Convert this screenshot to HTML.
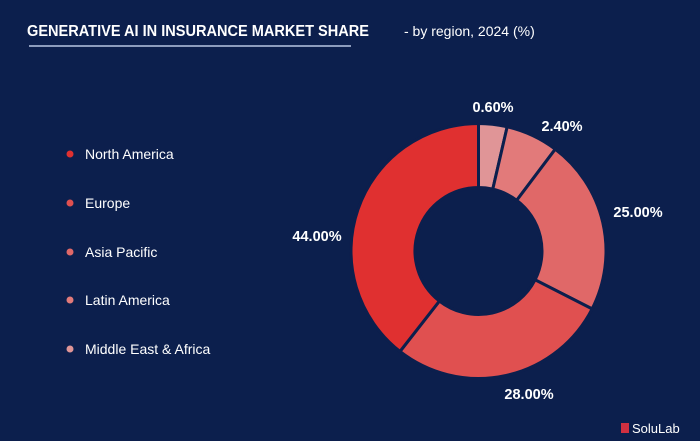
<!DOCTYPE html>
<html><head><style>
body{margin:0;width:700px;height:441px;background:#0c1f4d;overflow:hidden;font-family:"Liberation Sans",sans-serif;color:#fff}
</style></head><body>
<svg width="700" height="441" xmlns="http://www.w3.org/2000/svg" style="position:absolute;left:0;top:0">
<rect width="700" height="441" fill="#0c1f4d"/>
<text x="27" y="36" font-size="15.5" font-weight="bold" fill="#fff" textLength="342" lengthAdjust="spacingAndGlyphs">GENERATIVE AI IN INSURANCE MARKET SHARE</text>
<text x="404" y="36" font-size="14" fill="#fff">-  by region, 2024 (%)</text>
<rect x="29" y="45" width="322" height="2" fill="#8d9cbd"/>
<g font-size="14" fill="#fff">
<circle cx="70" cy="154" r="3.5" fill="#e03030"/><text x="85" y="159">North America</text>
<circle cx="70" cy="203" r="3.5" fill="#e05050"/><text x="85" y="208">Europe</text>
<circle cx="70" cy="252" r="3.5" fill="#e06868"/><text x="85" y="257">Asia Pacific</text>
<circle cx="70" cy="300" r="3.5" fill="#e27a7a"/><text x="85" y="305">Latin America</text>
<circle cx="70" cy="349" r="3.5" fill="#e09597"/><text x="85" y="354">Middle East &amp; Africa</text>
</g>
<g id="d" stroke="#0c1f4d" stroke-width="3"></g>
<g font-size="14.5" font-weight="bold" fill="#fff" text-anchor="middle">
<text x="493" y="112">0.60%</text>
<text x="562" y="131">2.40%</text>
<text x="638" y="217">25.00%</text>
<text x="317" y="241">44.00%</text>
<text x="529" y="399">28.00%</text>
</g>
<rect x="621" y="423" width="8" height="10" fill="#d03040"/>
<text x="632" y="433" font-size="13" fill="#fff">SoluLab</text>
</svg>
<script>
var cx=478.5,cy=251,R=127.5,r=63.5;
var a=[0,13,37,117,218,360],c=["#e09597","#e27a7a","#e06868","#e05050","#e03030"];
function p(rad,ang){var t=(ang-90)*Math.PI/180;return [cx+rad*Math.cos(t),cy+rad*Math.sin(t)];}
var g=document.getElementById('d'),s='';
for(var i=0;i<5;i++){var a0=a[i],a1=a[i+1],l=(a1-a0)>180?1:0;
var o0=p(R,a0),o1=p(R,a1),i1=p(r,a1),i0=p(r,a0);
s+='<path fill="'+c[i]+'" d="M'+o0+' A'+R+' '+R+' 0 '+l+' 1 '+o1+' L'+i1+' A'+r+' '+r+' 0 '+l+' 0 '+i0+' Z"/>';}
g.innerHTML=s;
</script>
</body></html>
